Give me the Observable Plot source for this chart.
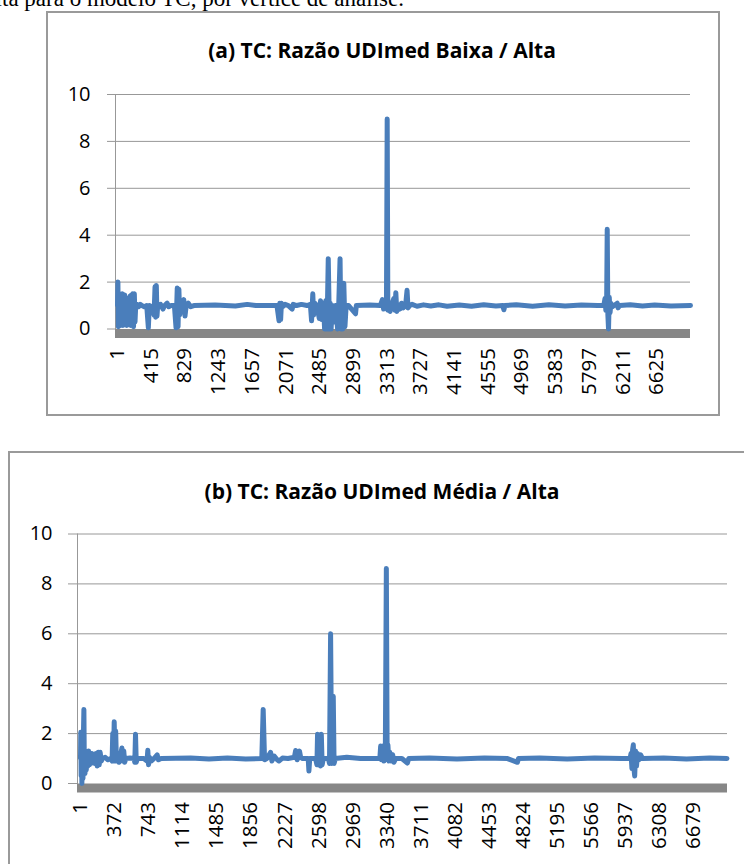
<!DOCTYPE html>
<html>
<head>
<meta charset="utf-8">
<script src="https://cdn.jsdelivr.net/npm/d3@7"></script>
<script src="https://cdn.jsdelivr.net/npm/@observablehq/plot@0.6"></script>
<style>
  html, body { margin: 0; padding: 0; background: #fff; }
  body { width: 744px; height: 864px; overflow: hidden; position: relative; font-family: "Open Sans", sans-serif; }
  .chart { position: absolute; left: 0; }
  .box { position: absolute; border: 2px solid #9a9a9a; box-sizing: border-box; pointer-events: none; }
  .title { position: absolute; font-family: "Open Sans", sans-serif; font-weight: 700; font-size: 21px; line-height: 21px; color: #000; white-space: nowrap; transform: translateX(-50%); }
  .sentence { position: absolute; font-family: "Liberation Serif", serif; font-size: 23px; line-height: 23px; color: #000; white-space: nowrap; }
</style>
</head>
<body>
<div class="sentence" id="sentence" style="left:-21px; top:-13px;">Alta para o modelo TC, por vértice de análise.</div>
<div id="chartA" class="chart" style="top:0px;"></div>
<div id="chartB" class="chart" style="top:440px;"></div>
<div class="box" style="left:46px; top:11px; width:674px; height:405px;"></div>
<div class="box" style="left:8px; top:451px; width:800px; height:460px;"></div>
<div class="title" style="left:382px; top:40px;">(a) TC: Razão UDImed Baixa / Alta</div>
<div class="title" style="left:382px; top:481px;">(b) TC: Razão UDImed Média / Alta</div>
<script>
// ---------- data ----------
const lastIndex = 7040;
const yTicks = [0, 2, 4, 6, 8, 10];
const xTicksA = [1, 415, 829, 1243, 1657, 2071, 2485, 2899, 3313, 3727, 4141, 4555, 4969, 5383, 5797, 6211, 6625];
const xTicksB = [1, 372, 743, 1114, 1485, 1856, 2227, 2598, 2969, 3340, 3711, 4082, 4453, 4824, 5195, 5566, 5937, 6308, 6679];

// series (a): vertex index / ratio (key points)
const idxA = [1, 6, 11, 17, 23, 30, 37, 45, 52, 60, 67, 75, 82, 90, 98, 106, 114, 122, 130, 138, 146, 155, 163, 172, 180, 190, 198, 208, 216, 225,
  240, 260, 280, 300, 330, 360, 380, 392, 420, 450, 462, 470, 478, 486, 495, 530, 560, 580, 611, 630, 660, 700, 720, 735, 745, 755, 765, 780, 815, 830, 845, 870, 900, 940,
  1200, 1450, 1594, 1700, 1960, 1985, 1995, 2005, 2015, 2030, 2060, 2100, 2147, 2160, 2200, 2260, 2330, 2370, 2385, 2400, 2410, 2425, 2450, 2480, 2495, 2510, 2530,
  2545, 2560, 2575, 2590, 2605, 2615, 2625, 2640, 2660, 2680, 2705, 2720, 2735, 2745, 2758, 2768, 2781, 2795, 2810, 2840, 2925, 2935, 3100, 3230,
  3255, 3270, 3290, 3305, 3314, 3322, 3335, 3350, 3365, 3395, 3410, 3420, 3432, 3445, 3470, 3490, 3510, 3540, 3558, 3570, 3590, 3620, 3680, 3760, 3850, 3950,
  4050, 4200, 4350, 4500, 4650, 4735, 4747, 4760, 4900, 5100, 5300, 5500, 5700, 5900, 5975, 5990, 6000, 6010, 6017, 6025, 6033, 6042, 6052, 6062, 6080,
  6140, 6150, 6170, 6300, 6450, 6600, 6800, 7040];
const valA = [1.0, 2.0, 0.1, 1.4, 0.2, 1.3, 0.15, 1.2, 0.3, 1.5, 0.15, 1.35, 0.2, 1.45, 0.25, 1.1, 0.15, 1.3, 0.3, 0.9, 0.2, 1.4, 0.15, 1.45, 0.2, 1.5, 0.1, 1.5, 0.3, 1.0,
  1.05, 0.95, 1.05, 1.0, 0.95, 1.0, 0.05, 1.0, 0.95, 0.6, 1.8, 0.5, 1.85, 0.55, 1.0, 1.05, 0.85, 1.0, 1.1, 0.95, 1.0, 1.0, 0.05, 1.75, 0.1, 1.7, 0.6, 1.0, 1.25, 0.55, 1.0, 1.1, 0.95, 1.0,
  1.02, 0.98, 1.05, 1.0, 1.0, 0.35, 1.1, 0.4, 1.1, 0.95, 1.05, 1.0, 0.85, 1.05, 1.0, 1.05, 1.0, 1.05, 0.35, 1.5, 0.6, 1.1, 1.0, 0.45, 1.2, 0.4, 1.1,
  0.0, 1.2, 0.0, 3.0, 0.0, 1.1, 0.0, 1.0, 0.3, 1.0, 0.0, 1.2, 3.0, 0.0, 1.0, 0.0, 1.95, 0.1, 1.0, 1.0, 0.65, 1.0, 1.02, 1.0,
  1.25, 0.85, 1.25, 0.9, 8.95, 0.8, 1.1, 0.75, 1.0, 1.3, 0.8, 1.55, 0.75, 1.05, 0.85, 1.1, 0.9, 1.0, 1.65, 0.9, 1.0, 1.05, 0.97, 1.03, 0.98, 1.03,
  0.97, 1.02, 0.97, 1.03, 0.98, 1.0, 0.82, 1.0, 1.03, 0.97, 1.03, 0.98, 1.02, 1.0, 1.0, 1.3, 0.8, 1.2, 4.25, 0.6, 0.0, 1.35, 0.7, 1.1, 0.95,
  1.1, 0.9, 1.0, 1.03, 0.98, 1.02, 0.98, 1.0];

// series (b)
const idxB = [1, 4, 8, 12, 16, 22, 28, 33, 38, 43, 50, 57, 64, 72, 80, 90, 98, 108, 116, 126, 135, 145, 158, 170, 183, 195, 205, 215, 228, 240, 270, 300, 330,
  345, 352, 360, 368, 376, 384, 392, 405, 420, 440, 452, 462, 472, 482, 495, 540, 585, 592, 600, 608, 620, 690, 725, 734, 742, 752, 770, 800, 836, 850, 880,
  1200, 1400, 1600, 1800, 1975, 1990, 2005, 2030, 2071, 2085, 2110, 2143, 2161, 2200, 2260, 2330, 2343, 2360, 2385, 2398, 2420, 2480, 2488, 2497,
  2560, 2575, 2582, 2590, 2605, 2615, 2623, 2632, 2645, 2700, 2712, 2724, 2735, 2745, 2753, 2762, 2775, 2900, 3050, 3260, 3269, 3278, 3295, 3305, 3320,
  3331, 3340, 3348, 3358, 3368, 3385, 3400, 3414, 3433, 3500, 3560, 3575, 3800, 4100, 4400, 4650, 4758, 4770, 5000, 5300, 5600, 5900, 5985, 5995,
  6005, 6012, 6020, 6028, 6035, 6045, 6055, 6065, 6080, 6100, 6120, 6350, 6600, 6850, 7040];
const valB = [1.0, 2.05, 0.3, 1.7, 0.0, 1.5, 0.2, 2.0, 2.97, 0.6, 0.4, 1.25, 0.55, 1.2, 0.7, 1.3, 0.75, 1.15, 0.8, 1.2, 0.85, 1.1, 0.8, 1.2, 0.7, 1.25, 0.75, 1.25, 0.9, 1.0, 1.05, 0.95, 1.0,
  0.9, 2.0, 0.9, 2.47, 1.0, 2.1, 0.9, 1.0, 0.85, 1.2, 1.42, 0.9, 1.3, 0.85, 1.0, 1.02, 1.0, 0.85, 1.97, 0.85, 1.0, 1.0, 0.9, 1.33, 0.75, 1.05, 0.9, 1.0, 1.15, 0.95, 1.0,
  1.02, 0.98, 1.02, 0.98, 1.0, 2.97, 0.95, 1.0, 1.25, 0.9, 1.1, 0.95, 0.9, 1.02, 1.0, 1.05, 1.32, 0.95, 1.3, 1.05, 1.0, 1.0, 0.5, 1.0,
  1.0, 0.75, 1.97, 0.75, 1.1, 0.7, 1.97, 0.75, 1.0, 1.0, 0.8, 6.0, 0.8, 1.0, 3.5, 0.8, 1.0, 1.05, 1.0, 1.0, 1.5, 0.95, 1.5, 0.9, 1.3,
  8.62, 0.95, 1.55, 0.9, 1.25, 0.9, 1.15, 0.85, 1.0, 1.0, 0.82, 1.0, 1.02, 0.98, 1.02, 1.0, 0.85, 1.0, 1.02, 0.98, 1.02, 1.0, 1.0, 1.2,
  0.6, 1.35, 1.55, 0.55, 0.3, 1.3, 0.7, 1.2, 0.95, 1.15, 1.0, 1.02, 0.98, 1.02, 1.0];

const seriesA = idxA.map((i, k) => ({i, v: valA[k]}));
const seriesB = idxB.map((i, k) => ({i, v: valB[k]}));

const lineColor = "#4A7EBB";
const axisGrey = "#989898";

function chart({data, xTicks, width, height, marginTop, marginBottom, marginLeft, marginRight, xRange, tickSize, tickPadding, xPad}) {
  return Plot.plot({
    width, height, marginTop, marginBottom, marginLeft, marginRight,
    style: {background: "transparent", fontFamily: "Open Sans", fontSize: "20px", color: "#000", overflow: "visible"},
    x: {type: "linear", domain: [1, lastIndex], range: xRange, axis: null, label: null},
    y: {type: "linear", domain: [0, 10], axis: null, label: null},
    marks: [
      Plot.gridY(yTicks.slice(1), {stroke: axisGrey, strokeOpacity: 1, strokeWidth: 1}),
      Plot.frame({anchor: "left", stroke: axisGrey, strokeWidth: 1}),
      Plot.axisY(yTicks, {anchor: "left", label: null, tickSize, tickPadding, stroke: axisGrey, fill: "#000", fontSize: 20, tickFormat: d => String(d)}),
      Plot.ruleY([0], {stroke: "#878787", strokeWidth: 9, dy: 4.5}),
      Plot.axisX(xTicks, {anchor: "bottom", label: null, tickSize: 0, tickPadding: xPad, tickRotate: -90, fill: "#000", fontSize: 20.5, tickFormat: d => String(d)}),
      Plot.line(data, {x: "i", y: "v", stroke: lineColor, strokeWidth: 5, strokeLinejoin: "round", strokeLinecap: "round"})
    ]
  });
}

document.getElementById("chartA").append(chart({
  data: seriesA, xTicks: xTicksA, width: 744, height: 420,
  marginTop: 94, marginBottom: 91.5, marginLeft: 115, marginRight: 54,
  xRange: [117, 690], tickSize: 8, tickPadding: 17, xPad: 19
}));
document.getElementById("chartB").append(chart({
  data: seriesB, xTicks: xTicksB, width: 744, height: 424,
  marginTop: 93.5, marginBottom: 81, marginLeft: 77, marginRight: 17,
  xRange: [80, 726.5], tickSize: 9, tickPadding: 16, xPad: 18.5
}));
</script>
</body>
</html>
